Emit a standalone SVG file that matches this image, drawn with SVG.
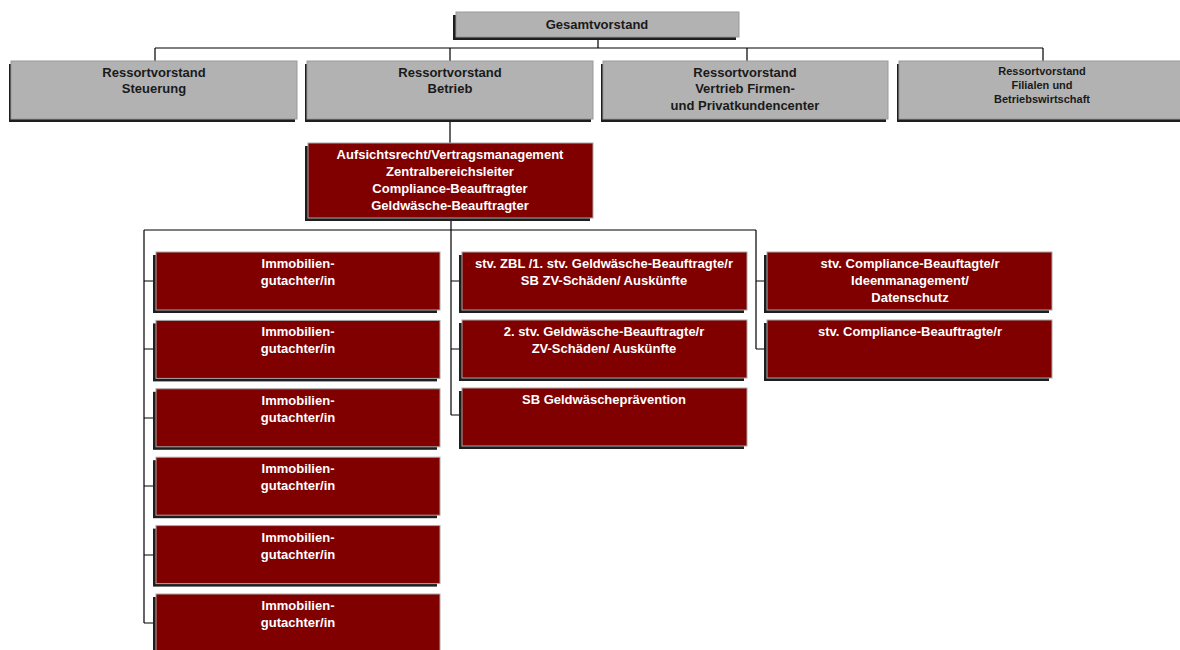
<svg xmlns="http://www.w3.org/2000/svg" width="1180" height="650" viewBox="0 0 1180 650">
<style>
.sh{fill:#1e1e1e}
.g{fill:#b2b2b2;stroke:#9a9a9a;stroke-width:1}
.r{fill:#800000;stroke:#a8a8a8;stroke-width:1}
.tg{font-family:"Liberation Sans",Arial,sans-serif;font-size:13px;font-weight:bold;fill:#1a1a1a;text-anchor:middle}
.tgs{font-family:"Liberation Sans",Arial,sans-serif;font-size:11px;font-weight:bold;fill:#1a1a1a;text-anchor:middle}
.tw{font-family:"Liberation Sans",Arial,sans-serif;font-size:13px;font-weight:bold;fill:#ffffff;text-anchor:middle}
.c{stroke:#000;stroke-width:1.2;fill:none}
</style>
<rect width="1180" height="650" fill="#ffffff"/>
<g id="connectors">
<path class="c" d="M598 37V48M155 48H1043M155 48V61M450 48V61M747 48V61M1043 48V61"/>
<path class="c" d="M450 119V143M451 218V415M144 230H756"/>
<path class="c" d="M144 230V623M144 281H156M144 349H156M144 418H156M144 486H156M144 555H156M144 623H156"/>
<path class="c" d="M451 281H462M451 349H462M451 415H462"/>
<path class="c" d="M756 230V349M756 281H767M756 349H767"/>
</g>
<g id="gesamtvorstand">
<rect class="sh" x="453" y="15" width="283" height="25"/>
<rect class="g" x="456" y="12" width="283" height="25"/>
<text class="tg" x="597" y="29">Gesamtvorstand</text>
</g>
<g id="rv-steuerung">
<rect class="sh" x="9" y="64" width="286" height="58"/>
<rect class="g" x="11" y="61" width="286" height="58"/>
<text class="tg" x="154" y="77">Ressortvorstand</text>
<text class="tg" x="154" y="93">Steuerung</text>
</g>
<g id="rv-betrieb">
<rect class="sh" x="305" y="64" width="286" height="58"/>
<rect class="g" x="307" y="61" width="286" height="58"/>
<text class="tg" x="450" y="77">Ressortvorstand</text>
<text class="tg" x="450" y="93">Betrieb</text>
</g>
<g id="rv-vertrieb">
<rect class="sh" x="601" y="64" width="285" height="58"/>
<rect class="g" x="603" y="61" width="285" height="58"/>
<text class="tg" x="745" y="77">Ressortvorstand</text>
<text class="tg" x="745" y="93">Vertrieb Firmen-</text>
<text class="tg" x="745" y="110">und Privatkundencenter</text>
</g>
<g id="rv-filialen">
<rect class="sh" x="897" y="64" width="290" height="58"/>
<rect class="g" x="899" y="61" width="290" height="58"/>
<text class="tgs" x="1042" y="75">Ressortvorstand</text>
<text class="tgs" x="1042" y="89">Filialen und</text>
<text class="tgs" x="1042" y="103">Betriebswirtschaft</text>
</g>
<g id="zentralbereich">
<rect class="sh" x="305" y="146" width="285" height="75"/>
<rect class="r" x="308" y="143" width="285" height="75"/>
<text class="tw" x="450" y="159">Aufsichtsrecht/Vertragsmanagement</text>
<text class="tw" x="450" y="176">Zentralbereichsleiter</text>
<text class="tw" x="450" y="193">Compliance-Beauftragter</text>
<text class="tw" x="450" y="210">Geldwäsche-Beauftragter</text>
</g>
<g id="gutachter1">
<rect class="sh" x="153" y="255" width="284" height="58"/>
<rect class="r" x="156" y="252" width="284" height="58"/>
<text class="tw" x="298" y="268">Immobilien-</text>
<text class="tw" x="298" y="285">gutachter/in</text>
</g>
<g id="gutachter2">
<rect class="sh" x="153" y="323.4" width="284" height="58"/>
<rect class="r" x="156" y="320.4" width="284" height="58"/>
<text class="tw" x="298" y="336.4">Immobilien-</text>
<text class="tw" x="298" y="353.4">gutachter/in</text>
</g>
<g id="gutachter3">
<rect class="sh" x="153" y="391.8" width="284" height="58"/>
<rect class="r" x="156" y="388.8" width="284" height="58"/>
<text class="tw" x="298" y="404.8">Immobilien-</text>
<text class="tw" x="298" y="421.8">gutachter/in</text>
</g>
<g id="gutachter4">
<rect class="sh" x="153" y="460.2" width="284" height="58"/>
<rect class="r" x="156" y="457.2" width="284" height="58"/>
<text class="tw" x="298" y="473.2">Immobilien-</text>
<text class="tw" x="298" y="490.2">gutachter/in</text>
</g>
<g id="gutachter5">
<rect class="sh" x="153" y="528.6" width="284" height="58"/>
<rect class="r" x="156" y="525.6" width="284" height="58"/>
<text class="tw" x="298" y="541.6">Immobilien-</text>
<text class="tw" x="298" y="558.6">gutachter/in</text>
</g>
<g id="gutachter6">
<rect class="sh" x="153" y="597" width="284" height="58"/>
<rect class="r" x="156" y="594" width="284" height="58"/>
<text class="tw" x="298" y="610">Immobilien-</text>
<text class="tw" x="298" y="627">gutachter/in</text>
</g>
<g id="stv-zbl">
<rect class="sh" x="459" y="255" width="285" height="58"/>
<rect class="r" x="462" y="252" width="285" height="58"/>
<text class="tw" x="604" y="268">stv. ZBL /1. stv. Geldwäsche-Beauftragte/r</text>
<text class="tw" x="604" y="285">SB ZV-Schäden/ Auskünfte</text>
</g>
<g id="stv-gw2">
<rect class="sh" x="459" y="323" width="285" height="58"/>
<rect class="r" x="462" y="320" width="285" height="58"/>
<text class="tw" x="604" y="336">2. stv. Geldwäsche-Beauftragte/r</text>
<text class="tw" x="604" y="353">ZV-Schäden/ Auskünfte</text>
</g>
<g id="sb-gw">
<rect class="sh" x="459" y="391" width="285" height="58"/>
<rect class="r" x="462" y="388" width="285" height="58"/>
<text class="tw" x="604" y="404">SB Geldwäscheprävention</text>
</g>
<g id="stv-compliance1">
<rect class="sh" x="764" y="255" width="285" height="58"/>
<rect class="r" x="767" y="252" width="285" height="58"/>
<text class="tw" x="910" y="268">stv. Compliance-Beauftagte/r</text>
<text class="tw" x="910" y="285">Ideenmanagement/</text>
<text class="tw" x="910" y="302">Datenschutz</text>
</g>
<g id="stv-compliance2">
<rect class="sh" x="764" y="323" width="285" height="58"/>
<rect class="r" x="767" y="320" width="285" height="58"/>
<text class="tw" x="910" y="336">stv. Compliance-Beauftragte/r</text>
</g>
</svg>
